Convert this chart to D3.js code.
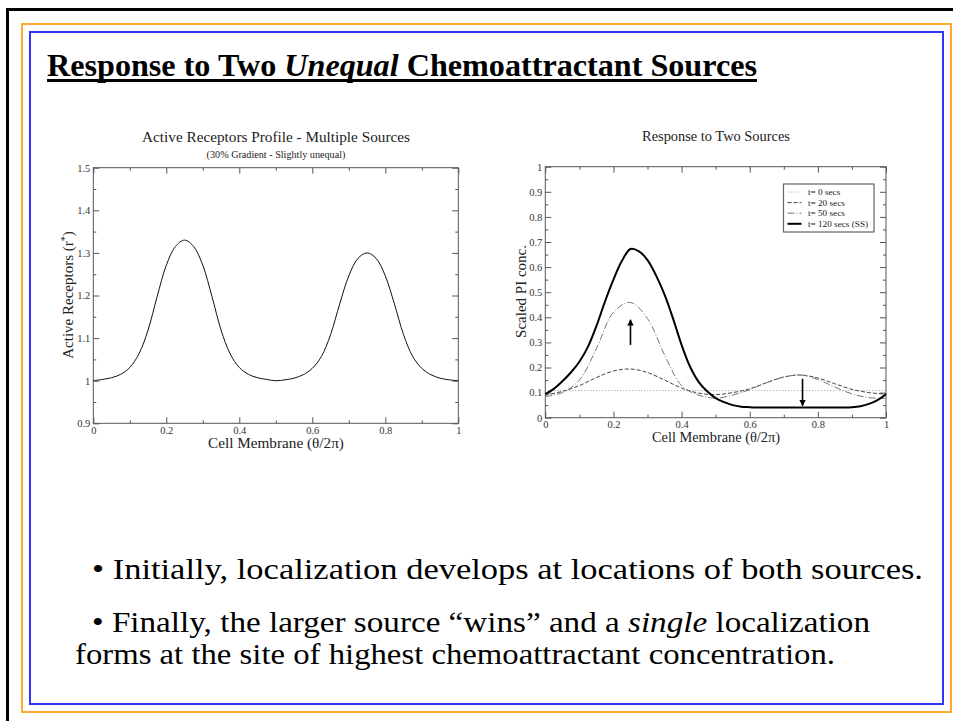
<!DOCTYPE html>
<html>
<head>
<meta charset="utf-8">
<script src="https://cdn.jsdelivr.net/npm/d3@7"></script>
<style>
body { margin: 0; background: #fff; }
svg text { font-family: "Liberation Serif", "Times New Roman", serif; }
</style>
</head>
<body>
<svg id="slide" width="953" height="721"></svg>
<script>
// ---- data ----
// left plot: active receptors along the membrane
const thetaFine = [0, 0.025, 0.05, 0.075, 0.1, 0.125, 0.15, 0.175, 0.2, 0.225, 0.25,
  0.275, 0.3, 0.325, 0.35, 0.375, 0.4, 0.425, 0.45, 0.475, 0.5,
  0.525, 0.55, 0.575, 0.6, 0.625, 0.65, 0.675, 0.7, 0.725, 0.75,
  0.775, 0.8, 0.825, 0.85, 0.875, 0.9, 0.925, 0.95, 0.975, 1];
const receptors = [1.000, 1.003, 1.007, 1.015, 1.031, 1.063, 1.119, 1.198, 1.271, 1.315, 1.330,
  1.315, 1.271, 1.198, 1.119, 1.063, 1.031, 1.015, 1.007, 1.003, 1.000,
  1.002, 1.006, 1.014, 1.029, 1.057, 1.108, 1.180, 1.246, 1.287, 1.300,
  1.287, 1.246, 1.180, 1.108, 1.057, 1.029, 1.014, 1.006, 1.002, 1.000];

// right plot: scaled PI concentration at several times
const thetaCoarse = [0, 0.05, 0.1, 0.15, 0.2, 0.25, 0.3, 0.35, 0.4, 0.45, 0.5,
  0.55, 0.6, 0.65, 0.7, 0.75, 0.8, 0.85, 0.9, 0.95, 1];
const piT0 = [0.108, 0.108, 0.108, 0.108, 0.108, 0.108, 0.108, 0.108, 0.108, 0.108, 0.108,
  0.108, 0.108, 0.108, 0.108, 0.108, 0.108, 0.108, 0.108, 0.108, 0.108];
const piT20 = [0.089, 0.105, 0.128, 0.160, 0.186, 0.194, 0.180, 0.150, 0.118, 0.098, 0.092,
  0.100, 0.115, 0.140, 0.162, 0.170, 0.158, 0.135, 0.113, 0.100, 0.094];
const piT50 = [0.084, 0.100, 0.150, 0.275, 0.420, 0.459, 0.395, 0.250, 0.128, 0.090, 0.078,
  0.090, 0.112, 0.140, 0.162, 0.170, 0.152, 0.122, 0.095, 0.080, 0.077];
const piT120 = [0.094, 0.115, 0.145, 0.180, 0.223, 0.282, 0.365, 0.462, 0.550, 0.625, 0.672,
  0.663, 0.628, 0.567, 0.490, 0.395, 0.290, 0.203, 0.143, 0.105, 0.078,
  0.062, 0.050, 0.044, 0.042, 0.041, 0.041, 0.041, 0.041, 0.041, 0.041,
  0.041, 0.041, 0.041, 0.041, 0.041, 0.042, 0.046, 0.055, 0.070, 0.094];
const legendLabels = ['t= 0 secs', 't= 20 secs', 't= 50 secs', 't= 120 secs (SS)'];

// arrows: [theta, from, to]
const arrowUp = [0.25, 0.29, 0.39];
const arrowDown = [0.755, 0.155, 0.048];

const slideTitle = ['Response to Two ', 'Unequal', ' Chemoattractant Sources'];
const bullet1 = '\u2022 Initially, localization develops at locations of both sources.';
const bullet2 = ['\u2022 Finally, the larger source \u201cwins\u201d and a ', 'single', ' localization'];
const bullet3 = 'forms at the site of highest chemoattractant concentration.';

const svg = d3.select('#slide');

// ---- slide frame ----
svg.append('rect').attr('x', 7.5).attr('y', 9.5).attr('width', 960).attr('height', 730)
  .attr('fill', 'none').attr('stroke', '#000').attr('stroke-width', 3);
svg.append('rect').attr('x', 22).attr('y', 24).attr('width', 929).attr('height', 688)
  .attr('fill', 'none').attr('stroke', '#ffaa33').attr('stroke-width', 2);
svg.append('rect').attr('x', 30).attr('y', 32).attr('width', 913).attr('height', 672)
  .attr('fill', 'none').attr('stroke', '#3333ff').attr('stroke-width', 2);

// squeeze / stretch a text to the width it has on the slide
function squeeze(sel, width) {
  sel.attr('textLength', width).attr('lengthAdjust', 'spacingAndGlyphs');
}
// scale the font size so the text gets a given width
function fitWidth(sel, width) {
  const w = sel.node().getComputedTextLength();
  const fs = parseFloat(sel.attr('font-size'));
  sel.attr('font-size', fs * width / w);
}

// title
const title = svg.append('text').attr('x', 47).attr('y', 75.5)
  .attr('font-size', 31).attr('font-weight', 'bold');
slideTitle.forEach((s, i) => title.append('tspan').text(s).attr('font-style', i === 1 ? 'italic' : 'normal'));
squeeze(title, 710);
svg.append('rect').attr('x', 47).attr('y', 79).attr('width', 710).attr('height', 3).attr('fill', '#000');

// bullets
const b1 = svg.append('text').attr('x', 92).attr('y', 579).attr('font-size', 29).text(bullet1);
squeeze(b1, 831);
const b2 = svg.append('text').attr('x', 92).attr('y', 632).attr('font-size', 29);
bullet2.forEach((s, i) => b2.append('tspan').text(s).attr('font-style', i === 1 ? 'italic' : 'normal'));
squeeze(b2, 778);
const b3 = svg.append('text').attr('x', 75).attr('y', 664).attr('font-size', 29).text(bullet3);
squeeze(b3, 760);

// ---- axes frame with inward ticks on all four sides ----
function drawFrame(g, x, y, xStep, yStep) {
  const [x0, x1] = x.range();
  const [y0, y1] = y.range();
  const xDom = x.domain(), yDom = y.domain();
  const xMaj = d3.range(xDom[0], xDom[1] + 1e-9, xStep);
  const xMin = d3.range(xDom[0] + xStep / 2, xDom[1], xStep);
  const yMaj = d3.range(yDom[0], yDom[1] + 1e-9, yStep);
  const yMin = d3.range(yDom[0] + yStep / 2, yDom[1], yStep);
  const fmt = d => d3.format('~g')(+d.toFixed(2));

  const mk = (axisFn, scale, vals, size, labels) =>
    axisFn(scale).tickValues(vals).tickSizeInner(size).tickSizeOuter(0)
      .tickPadding(3).tickFormat(labels ? fmt : '');

  const parts = [
    [d3.axisBottom, x, xMaj, -6, true, `translate(0,${y0})`],
    [d3.axisBottom, x, xMin, -3, false, `translate(0,${y0})`],
    [d3.axisTop, x, xMaj, -6, false, `translate(0,${y1})`],
    [d3.axisTop, x, xMin, -3, false, `translate(0,${y1})`],
    [d3.axisLeft, y, yMaj, -6, true, `translate(${x0},0)`],
    [d3.axisLeft, y, yMin, -3, false, `translate(${x0},0)`],
    [d3.axisRight, y, yMaj, -6, false, `translate(${x1},0)`],
    [d3.axisRight, y, yMin, -3, false, `translate(${x1},0)`]
  ];
  parts.forEach(([fn, sc, vals, size, labels, tr]) => {
    const a = g.append('g').attr('transform', tr).call(mk(fn, sc, vals, size, labels))
      .attr('font-family', null);
    a.select('.domain').remove();
    a.selectAll('line').attr('stroke', '#555');
    a.selectAll('text').attr('font-size', 10.5).attr('fill', '#333');
  });
  g.append('rect').attr('x', x0).attr('y', y1).attr('width', x1 - x0).attr('height', y0 - y1)
    .attr('fill', 'none').attr('stroke', '#555');
}

// ---- left chart ----
const gL = svg.append('g');
const xL = d3.scaleLinear().domain([0, 1]).range([93.3, 458.3]);
const yL = d3.scaleLinear().domain([0.9, 1.5]).range([423.3, 167.7]);
drawFrame(gL, xL, yL, 0.2, 0.1);
gL.append('path').datum(thetaFine.map((t, i) => [t, receptors[i]]))
  .attr('fill', 'none').attr('stroke', '#111').attr('stroke-width', 1)
  .attr('d', d3.line().x(d => xL(d[0])).y(d => yL(d[1])).curve(d3.curveCatmullRom));

const tL = gL.append('text').attr('x', 276).attr('y', 142).attr('text-anchor', 'middle')
  .attr('font-size', 13.5).attr('fill', '#222').text('Active Receptors Profile - Multiple Sources');
fitWidth(tL, 268);
const sL = gL.append('text').attr('x', 276).attr('y', 157.5).attr('text-anchor', 'middle')
  .attr('font-size', 8.5).attr('fill', '#222').text('(30% Gradient - Slightly unequal)');
fitWidth(sL, 139);
const xlabL = gL.append('text').attr('x', 276).attr('y', 448).attr('text-anchor', 'middle')
  .attr('font-size', 14.5).attr('fill', '#222').text('Cell Membrane (\u03b8/2\u03c0)');
fitWidth(xlabL, 136);
const ylabL = gL.append('text').attr('transform', 'translate(73,295) rotate(-90)')
  .attr('text-anchor', 'middle').attr('font-size', 15).attr('fill', '#222');
ylabL.append('tspan').text('Active Receptors (r');
ylabL.append('tspan').text('*').attr('font-size', 10).attr('dy', -5);
ylabL.append('tspan').text(')').attr('dy', 5);

// ---- right chart ----
const gR = svg.append('g');
const xR = d3.scaleLinear().domain([0, 1]).range([545.3, 886]);
const yR = d3.scaleLinear().domain([0, 1]).range([417.7, 166.7]);
drawFrame(gR, xR, yR, 0.2, 0.1);

const series = [
  { x: thetaCoarse, y: piT0, color: '#999', width: 1, dash: '1,2' },
  { x: thetaCoarse, y: piT20, color: '#444', width: 1, dash: '4,2' },
  { x: thetaCoarse, y: piT50, color: '#777', width: 1, dash: '7,2,1,2' },
  { x: thetaFine, y: piT120, color: '#000', width: 2, dash: null }
];
const lineR = d3.line().x(d => xR(d[0])).y(d => yR(d[1])).curve(d3.curveCatmullRom);
series.forEach(s => {
  gR.append('path').datum(s.x.map((t, i) => [t, s.y[i]]))
    .attr('fill', 'none').attr('stroke', s.color).attr('stroke-width', s.width)
    .attr('stroke-dasharray', s.dash).attr('d', lineR);
});

// arrows
svg.append('defs').append('marker').attr('id', 'head').attr('viewBox', '0 0 10 10')
  .attr('refX', 9).attr('refY', 5).attr('markerWidth', 4).attr('markerHeight', 5)
  .attr('orient', 'auto').append('path').attr('d', 'M0,0L10,5L0,10Z').attr('fill', '#000');
[arrowUp, arrowDown].forEach(a => {
  gR.append('line').attr('x1', xR(a[0])).attr('x2', xR(a[0]))
    .attr('y1', yR(a[1])).attr('y2', yR(a[2]))
    .attr('stroke', '#000').attr('stroke-width', 1.6).attr('marker-end', 'url(#head)');
});

// legend
const lg = gR.append('g').attr('transform', 'translate(783.5,184)');
lg.append('rect').attr('width', 90.5).attr('height', 48).attr('fill', '#fff')
  .attr('stroke', '#666').attr('stroke-width', 1.2);
legendLabels.forEach((lab, i) => {
  const yy = 8 + i * 10.6;
  const s = series[i];
  lg.append('line').attr('x1', 4).attr('x2', 18).attr('y1', yy).attr('y2', yy)
    .attr('stroke', s.color).attr('stroke-width', s.width).attr('stroke-dasharray', s.dash);
  lg.append('text').attr('x', 24.5).attr('y', yy + 3).attr('font-size', 9.2)
    .attr('fill', '#222').text(lab);
});

const tR = gR.append('text').attr('x', 716).attr('y', 141).attr('text-anchor', 'middle')
  .attr('font-size', 13.5).attr('fill', '#222').text('Response to Two Sources');
fitWidth(tR, 148);
const xlabR = gR.append('text').attr('x', 716).attr('y', 442).attr('text-anchor', 'middle')
  .attr('font-size', 14).attr('fill', '#222').text('Cell Membrane (\u03b8/2\u03c0)');
fitWidth(xlabR, 128);
const ylabR = gR.append('text').attr('transform', 'translate(526,291.5) rotate(-90)')
  .attr('text-anchor', 'middle').attr('font-size', 14).attr('fill', '#222').text('Scaled PI conc.');
fitWidth(ylabR, 93);
</script>
</body>
</html>
